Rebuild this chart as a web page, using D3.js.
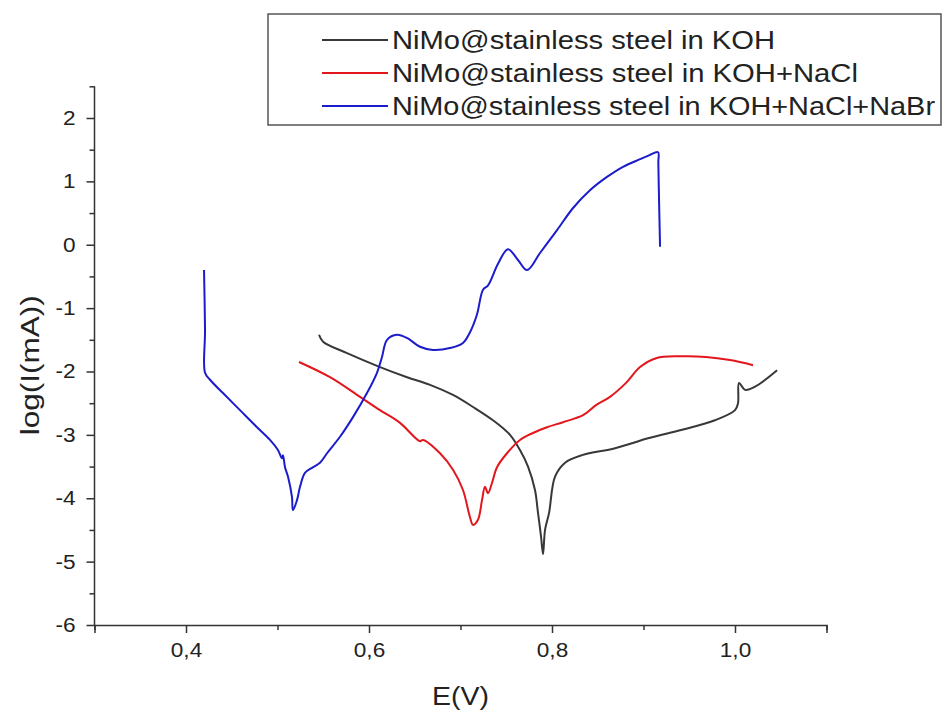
<!DOCTYPE html>
<html>
<head>
<meta charset="utf-8">
<script src="https://cdn.jsdelivr.net/npm/d3@7/dist/d3.min.js"></script>
<style>
  html, body { margin: 0; padding: 0; background: #fff; }
  svg { display: block; font-family: "Liberation Sans", Arial, sans-serif; }
</style>
</head>
<body>
<svg id="chart" width="947" height="713"></svg>
<script>
// ---- Data ----
const seriesNames = [
  "NiMo@stainless steel in KOH",
  "NiMo@stainless steel in KOH+NaCl",
  "NiMo@stainless steel in KOH+NaCl+NaBr"
];
const seriesColors = ["#383838", "#e3161c", "#1c1ccc"];

// E(V) and log(I(mA)) for KOH
const kohE = [0.5454,0.5498,0.5760,0.6121,0.6416,0.6667,0.6918,0.7137,0.7355,0.7541,0.7650,0.7738,0.7814,0.7847,0.7880,0.7902,0.7924,0.7968,0.8033,0.8143,0.8328,0.8689,0.9060,0.9421,0.9781,1.0000,1.0033,1.0044,1.0110,1.0219,1.0460];
const kohLog = [-1.42,-1.53,-1.71,-1.93,-2.09,-2.21,-2.37,-2.56,-2.77,-3.00,-3.24,-3.50,-3.87,-4.23,-4.60,-4.88,-4.50,-4.23,-3.66,-3.44,-3.32,-3.21,-3.05,-2.92,-2.77,-2.61,-2.50,-2.18,-2.29,-2.24,-1.98];

// E(V) and log(I(mA)) for KOH+NaCl
const naclE = [0.5235,0.5574,0.5902,0.6120,0.6339,0.6557,0.6590,0.6776,0.6918,0.7027,0.7104,0.7137,0.7191,0.7235,0.7268,0.7301,0.7344,0.7399,0.7508,0.7650,0.7792,0.7945,0.8120,0.8339,0.8481,0.8634,0.8809,0.8962,0.9137,0.9399,0.9683,0.9945,1.0197];
const naclLog = [-1.85,-2.09,-2.40,-2.61,-2.81,-3.10,-3.08,-3.29,-3.55,-3.87,-4.30,-4.42,-4.34,-4.03,-3.82,-3.92,-3.76,-3.51,-3.29,-3.08,-2.97,-2.88,-2.80,-2.69,-2.53,-2.40,-2.18,-1.93,-1.79,-1.76,-1.77,-1.82,-1.90];

// E(V) and log(I(mA)) for KOH+NaCl+NaBr
const nabrE = [0.4197,0.4208,0.4208,0.4262,0.4404,0.4590,0.4776,0.4918,0.5005,0.5049,0.5060,0.5082,0.5115,0.5158,0.5169,0.5213,0.5246,0.5300,0.5377,0.5464,0.5541,0.5683,0.5825,0.5978,0.6087,0.6142,0.6197,0.6306,0.6415,0.6557,0.6699,0.6885,0.7027,0.7104,0.7180,0.7246,0.7301,0.7410,0.7519,0.7628,0.7727,0.7869,0.8055,0.8230,0.8415,0.8601,0.8776,0.8962,0.9060,0.9159,0.9162,0.9170,0.9181];
const nabrLog = [-0.40,-1.35,-2.02,-2.13,-2.34,-2.61,-2.88,-3.08,-3.24,-3.37,-3.32,-3.51,-3.66,-3.98,-4.19,-4.03,-3.82,-3.60,-3.52,-3.44,-3.29,-3.03,-2.72,-2.34,-2.02,-1.77,-1.50,-1.42,-1.47,-1.61,-1.66,-1.63,-1.55,-1.38,-1.10,-0.71,-0.64,-0.30,-0.07,-0.24,-0.40,-0.13,0.23,0.58,0.86,1.07,1.23,1.35,1.41,1.46,1.30,0.70,-0.03];

const xMajorTicks = [0.4, 0.6, 0.8, 1.0];
const xMinorTicks = [0.3, 0.5, 0.7, 0.9, 1.1];
const yMajorTicks = [-6, -5, -4, -3, -2, -1, 0, 1, 2];
const yMinorTicks = [-5.5, -4.5, -3.5, -2.5, -1.5, -0.5, 0.5, 1.5, 2.5];
const xTitle = "E(V)";
const yTitle = "log(I(mA))";

// ---- Chart ----
const svg = d3.select("#chart");
const x = d3.scaleLinear().domain([0.3, 1.1]).range([94.5, 826.5]);
const y = d3.scaleLinear().domain([-6, 2]).range([625, 118]);
const axisColor = "#333";
const stretch = 1.13; // reference text is slightly widened

const locale = d3.formatLocale({decimal: ",", thousands: ".", grouping: [3], currency: ["", ""], minus: "-"});
const fmt1 = locale.format(".1f");
const fmtInt = locale.format("d");

// X axis
const gx = svg.append("g").attr("transform", `translate(0,${y(-6)})`);
gx.call(d3.axisBottom(x).tickValues(xMajorTicks).tickSize(8).tickPadding(10).tickFormat(fmt1));
const gxm = svg.append("g").attr("transform", `translate(0,${y(-6)})`);
gxm.call(d3.axisBottom(x).tickValues(xMinorTicks).tickSize(5).tickFormat(""));
gxm.select(".domain").remove();

// Y axis
const gy = svg.append("g").attr("transform", `translate(${x(0.3)},0)`);
gy.call(d3.axisLeft(y).tickValues(yMajorTicks).tickSize(8).tickPadding(11).tickFormat(fmtInt));
gy.select(".domain").attr("d", `M-0,${y(2.5)}V${y(-6)}`);
const gym = svg.append("g").attr("transform", `translate(${x(0.3)},0)`);
gym.call(d3.axisLeft(y).tickValues(yMinorTicks).tickSize(5).tickFormat(""));
gym.select(".domain").remove();

svg.selectAll(".domain, .tick line").attr("stroke", axisColor).attr("stroke-width", 1.5);
svg.selectAll(".tick text").attr("fill", "#222").attr("font-size", 20)
   .style("font-size", "20px")
   .style("font-family", "'Liberation Sans', Arial, sans-serif")
   .each(function() {
     const t = this.textContent;
     if (t) {
       const w = this.getComputedTextLength();
       d3.select(this).attr("textLength", w * stretch).attr("lengthAdjust", "spacingAndGlyphs");
     }
   });

// Titles
svg.append("text").attr("x", x(0.7)).attr("y", 705).attr("text-anchor", "middle")
  .style("font-size", "26px").attr("fill", "#222")
  .attr("textLength", 57).attr("lengthAdjust", "spacingAndGlyphs").text(xTitle);
svg.append("text").attr("transform", `translate(39,${y(-1.9)}) rotate(-90)`).attr("text-anchor", "middle")
  .style("font-size", "26px").attr("fill", "#222")
  .attr("textLength", 140).attr("lengthAdjust", "spacingAndGlyphs").text(yTitle);

// Curves
const series = [
  {E: kohE, L: kohLog},
  {E: naclE, L: naclLog},
  {E: nabrE, L: nabrLog}
];
const line = d3.line().x(d => x(d[0])).y(d => y(d[1])).curve(d3.curveCatmullRom.alpha(0.5));
series.forEach((s, i) => {
  const pts = s.E.map((e, k) => [e, s.L[k]]);
  svg.append("path").datum(pts).attr("d", line).attr("fill", "none")
    .attr("stroke", seriesColors[i]).attr("stroke-width", 2).attr("stroke-linejoin", "round");
});

// Legend
const lg = svg.append("g");
lg.append("rect").attr("x", 268).attr("y", 14).attr("width", 673).attr("height", 111)
  .attr("fill", "#fff").attr("stroke", "#555").attr("stroke-width", 1.5);
const legendTextWidths = [383, 466, 543];
seriesNames.forEach((name, i) => {
  const ly = 40 + i * 33;
  lg.append("line").attr("x1", 322).attr("x2", 388).attr("y1", ly).attr("y2", ly)
    .attr("stroke", seriesColors[i]).attr("stroke-width", 2);
  lg.append("text").attr("x", 392).attr("y", ly).attr("dy", "0.36em")
    .style("font-size", "25px").attr("fill", "#222")
    .attr("textLength", legendTextWidths[i]).attr("lengthAdjust", "spacingAndGlyphs")
    .text(name);
});
</script>
</body>
</html>
